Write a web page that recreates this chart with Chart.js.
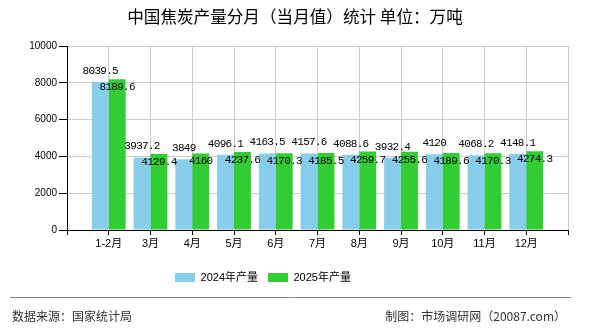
<!DOCTYPE html>
<html>
<head>
<meta charset="utf-8">
<script src="https://cdn.jsdelivr.net/npm/chart.js@4.4.1/dist/chart.umd.min.js"></script>
<style>
  html, body { margin: 0; padding: 0; background: #fff; }
  #wrap { width: 590px; height: 330px; position: relative; }
</style>
</head>
<body>
<div id="wrap"><canvas id="cokeChart"></canvas></div>
<script>
// 数据（万吨）
const months = ['1-2月', '3月', '4月', '5月', '6月', '7月', '8月', '9月', '10月', '11月', '12月'];
const output2024 = [8039.5, 3937.2, 3849, 4096.1, 4163.5, 4157.6, 4088.6, 3932.4, 4120, 4068.2, 4148.1];
const output2025 = [8189.6, 4129.4, 4160, 4237.6, 4170.3, 4185.5, 4259.7, 4255.6, 4189.6, 4170.3, 4274.3];
const yTicks = [0, 2000, 4000, 6000, 8000, 10000];

const color2024 = '#87CEEB';
const color2025 = '#32CD32';

// 两端留空位，让柱子落在刻度线上
const axisLabels = [''].concat(months, ['']);
const pad = arr => [null].concat(arr, [null]);

// 标题（按整张画布居中）
const titleText = {
    id: 'titleText',
    afterDraw(chart) {
        const ctx = chart.ctx;
        ctx.save();
        ctx.fillStyle = '#000';
        ctx.font = '16.6px "Noto Sans CJK SC", sans-serif';
        ctx.textAlign = 'center';
        ctx.textBaseline = 'middle';
        ctx.fillText('中国焦炭产量分月（当月值）统计 单位：万吨', 295, 17);
        ctx.restore();
    }
};

// 柱顶数值
const valueLabels = {
    id: 'valueLabels',
    afterDatasetsDraw(chart) {
        const ctx = chart.ctx;
        ctx.save();
        ctx.font = '11px "Liberation Mono", monospace';
        ctx.letterSpacing = '-0.7px';
        ctx.fillStyle = '#000';
        ctx.textAlign = 'center';
        ctx.textBaseline = 'middle';
        chart.data.datasets.forEach((ds, di) => {
            const meta = chart.getDatasetMeta(di);
            meta.data.forEach((bar, i) => {
                const v = ds.data[i];
                if (v == null) return;
                const dy = di === 0 ? -11 : 8;
                ctx.fillText(String(v), bar.x, bar.y + dy);
            });
        });
        ctx.restore();
    }
};

// 图例往左挪一点
const legendShift = {
    id: 'legendShift',
    afterLayout(chart) {
        if (chart.legend) chart.legend.right -= 42;
    }
};

// 底部来源
const footer = {
    id: 'footer',
    afterDraw(chart) {
        const ctx = chart.ctx;
        ctx.save();
        ctx.strokeStyle = '#888';
        ctx.lineWidth = 1;
        ctx.beginPath();
        ctx.moveTo(10, 297.5);
        ctx.lineTo(571, 297.5);
        ctx.stroke();
        ctx.fillStyle = '#333';
        ctx.font = '12px "Noto Sans CJK SC", sans-serif';
        ctx.textBaseline = 'middle';
        ctx.textAlign = 'left';
        ctx.fillText('数据来源：国家统计局', 12, 316);
        ctx.textAlign = 'right';
        ctx.fillText('制图：市场调研网（20087.com）', 566, 316);
        ctx.restore();
    }
};

new Chart(document.getElementById('cokeChart'), {
    type: 'bar',
    data: {
        labels: axisLabels,
        datasets: [{
            label: '2024年产量',
            data: pad(output2024),
            backgroundColor: color2024,
            categoryPercentage: 0.81,
            barPercentage: 1
        }, {
            label: '2025年产量',
            data: pad(output2025),
            backgroundColor: color2025,
            categoryPercentage: 0.81,
            barPercentage: 1
        }]
    },
    options: {
        responsive: true,
        maintainAspectRatio: false,
        animation: false,
        layout: { padding: { left: 0, right: 22, top: 46, bottom: 37 } },
        scales: {
            x: {
                offset: false,
                grid: { color: '#ccc', tickColor: '#000', tickLength: 5, offset: false },
                border: { color: '#000' },
                ticks: {
                    color: '#000',
                    font: { size: 11, family: '"Liberation Sans", "Noto Sans CJK SC", sans-serif' },
                    padding: 2,
                    maxRotation: 0,
                    autoSkip: false
                },
                afterFit(scale) { scale.height = 32; }
            },
            y: {
                min: 0,
                max: 10000,
                afterBuildTicks(scale) { scale.ticks = yTicks.map(v => ({ value: v })); },
                grid: { color: '#ccc', tickColor: '#000', tickLength: 8 },
                border: { color: '#000' },
                ticks: {
                    color: '#000',
                    font: { size: 10, family: '"Liberation Sans", sans-serif' },
                    padding: 2,
                    callback: v => String(v)
                },
                afterFit(scale) { scale.width = 67; }
            }
        },
        plugins: {
            title: { display: false },
            legend: {
                position: 'bottom',
                labels: {
                    color: '#000',
                    boxWidth: 20,
                    boxHeight: 9,
                    padding: 10,
                    font: { size: 11, family: '"Liberation Sans", "Noto Sans CJK SC", sans-serif' }
                }
            },
            tooltip: { enabled: false }
        }
    },
    plugins: [titleText, valueLabels, legendShift, footer]
});
</script>
</body>
</html>
